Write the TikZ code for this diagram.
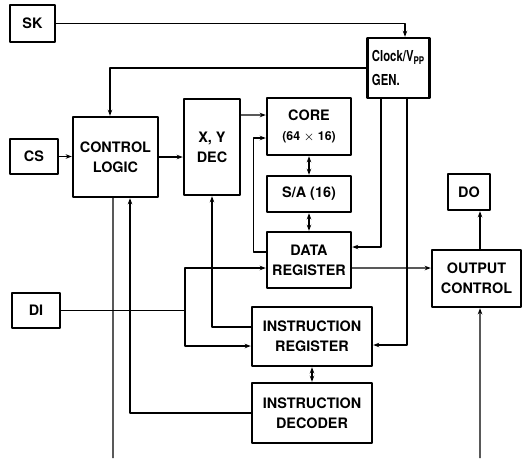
\documentclass[tikz,border=0pt]{standalone}
\usepackage{fontspec}
\setmainfont{TeX Gyre Heros}
\newfontfamily\narrowhv[FakeStretch=0.75]{TeX Gyre Heros}
\usetikzlibrary{arrows.meta}
\begin{document}
\begin{tikzpicture}[x=0.02cm,y=-0.02cm,>={Stealth[length=3.5pt,width=2.6pt]},line join=round,
		blk/.style={draw,line width=1.4pt,align=center,inner sep=0pt,font=\bfseries\fontsize{8.2}{11.4}\selectfont},
		wire/.style={line width=0.6pt}]
			\useasboundingbox (0,0) rectangle (523,458);
			\node[blk,minimum width=0.9cm,minimum height=0.74cm] (sk) at (32.5,23.5) {SK};
			\node[blk,minimum width=1.24cm,minimum height=1.2cm,align=left,font=\narrowhv\bfseries\fontsize{8.6}{11.4}\selectfont] (clk) at (398.5,68) {Clock/V\textsubscript{PP}\\[2pt]GEN.};
			\node[blk,minimum width=1.7cm,minimum height=1.6cm] (cl) at (115.5,157) {CONTROL\\LOGIC};
			\node[blk,minimum width=0.96cm,minimum height=0.7cm] (cs) at (34,156.5) {CS};
			\node[blk,minimum width=1.12cm,minimum height=1.92cm] (xy) at (212,147) {X, Y\\DEC};
			\node[blk,minimum width=1.68cm,minimum height=1.14cm] (core) at (309,126.5) {CORE\\{\fontsize{7}{11.4}\selectfont(64 $\times$ 16)}};
			\node[blk,minimum width=1.68cm,minimum height=0.72cm] (sa) at (309,194) {S/A (16)};
			\node[blk,minimum width=1.68cm,minimum height=1.12cm] (dr) at (309,260) {DATA\\REGISTER};
			\node[blk,minimum width=0.84cm,minimum height=0.72cm] (do) at (469,192) {DO};
			\node[blk,minimum width=1.78cm,minimum height=1.14cm] (oc) at (476.5,278.5) {OUTPUT\\CONTROL};
			\node[blk,minimum width=0.96cm,minimum height=0.7cm] (di) at (36,310.5) {DI};
			\node[blk,minimum width=2.4cm,minimum height=1.18cm] (ir) at (312,336.5) {INSTRUCTION\\REGISTER};
			\node[blk,minimum width=2.4cm,minimum height=1.2cm] (id) at (312,413) {INSTRUCTION\\DECODER};
			\coordinate (dij) at (185,310.5);
			\coordinate (ocn) at ([xshift=0.07cm]oc.north);
			\coordinate (ocs) at ([xshift=0.07cm]oc.south);
			\coordinate (ocpin) at (480,458);
			\coordinate (clpin) at (113,458);
			\draw[wire,->] (sk.east) -| ([xshift=0.13cm]clk.north);
			\draw[wire,->] (clk.west) -| ([xshift=-0.11cm]cl.north);
			\draw[wire,->] ([xshift=-0.35cm]clk.south) |- ([yshift=0.26cm]dr.east);
			\draw[wire,->] ([xshift=0.17cm]clk.south) |- ([yshift=-0.17cm]ir.east);
			\draw[wire,->] (cs.east) -- (cs.east -| cl.west);
			\draw[wire,->] (cl.east) -- (cl.east -| xy.west);
			\draw[wire,->] ([yshift=0.64cm]xy.east) -- ([yshift=0.23cm]core.west);
			\draw[wire,->] ([yshift=0.16cm]dr.west) -- ++(-0.24cm,0) |- ([yshift=-0.23cm]core.west);
			\draw[wire,<->] (core.south) -- (sa.north);
			\draw[wire,<->] (sa.south) -- (dr.north);
			\draw[wire,->] ([yshift=-0.16cm]dr.east) -- ([yshift=0.21cm]oc.west);
			\draw[wire,->] (ocn) -- (ocn |- do.south);
			\draw[wire,->] (ocpin) -- (ocs);
			\draw[wire] (di.east) -- (dij);
			\draw[wire,->] (dij) |- ([yshift=-0.16cm]dr.west);
			\draw[wire,->] (dij) |- ([yshift=-0.19cm]ir.west);
			\draw[wire,->] ([yshift=0.19cm]ir.west) -| (xy.south);
			\draw[wire,<->] (ir.south) -- (id.north);
			\draw[wire,->] (id.west) -| ([xshift=0.29cm]cl.south);
			\draw[wire] ([xshift=-0.05cm]cl.south) -- (clpin);
		\end{tikzpicture}
\end{document}
